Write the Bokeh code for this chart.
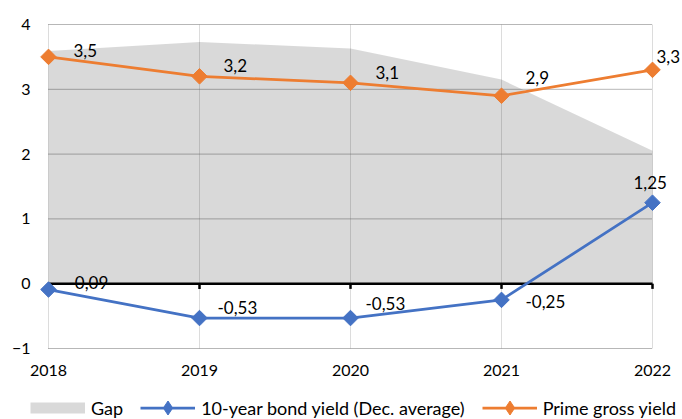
import math
from bokeh.plotting import figure
from bokeh.models import (ColumnDataSource, Range1d, FixedTicker, LabelSet,
                          Legend, LegendItem)
from bokeh.core.properties import value
from bokeh.embed import file_html
from bokeh.resources import INLINE

# ---- data ----
years = [2018, 2019, 2020, 2021, 2022]
bond_yield = [-0.09, -0.53, -0.53, -0.25, 1.25]
prime_yield = [3.5, 3.2, 3.1, 2.9, 3.3]
gap = [3.59, 3.73, 3.63, 3.15, 2.05]
bond_labels = ["-0,09", "-0,53", "-0,53", "-0,25", "1,25"]
prime_labels = ["3,5", "3,2", "3,1", "2,9", "3,3"]
y_ticks = [-1, 0, 1, 2, 3, 4]

# ---- label placement (style, screen px) ----
prime_dx = [25, 24, 25, 24, 4]
prime_dy = [6, 11, 10, 18, 13]
bond_dx = [20, 18, 15, 24, -19]
bond_dy = [7, 11, 15, -2, 20]

FONT = "Lato"
BLUE = "#4472C4"
ORANGE = "#ED7D31"
TXT = "#000000"
NAN = float("nan")

# layout: plot area 604 x 324 px for 4 years x 5 units, placed at (48, 24);
# the frame covers the whole canvas so labels, axes and legend are not clipped
W, H = 682, 419
PX_X = 604 / 4
PX_Y = 324 / 5
x_start = years[0] - 48 / PX_X
x_end = x_start + W / PX_X
y_end = y_ticks[-1] + 24 / PX_Y
y_start = y_end - H / PX_Y

p = figure(x_range=Range1d(x_start, x_end), y_range=Range1d(y_start, y_end),
           frame_width=W, frame_height=H,
           min_border_left=0, min_border_right=0,
           min_border_top=0, min_border_bottom=0,
           output_backend="svg", toolbar_location=None)
p.outline_line_color = None
p.background_fill_color = "white"

# axes (fixed inside the frame)
p.xaxis.ticker = FixedTicker(ticks=years)
p.yaxis.ticker = FixedTicker(ticks=y_ticks)
p.xaxis.fixed_location = y_ticks[0]
p.yaxis.fixed_location = years[0]
for ax in (p.xaxis, p.yaxis):
    ax.axis_line_color = None
    ax.major_tick_line_color = None
    ax.minor_tick_line_color = None
    ax.major_tick_out = 0
    ax.major_tick_in = 0
    ax.major_label_text_font = FONT
    ax.major_label_text_font_size = "16px"
    ax.major_label_text_color = TXT
p.xaxis.major_label_standoff = 16
p.yaxis.major_label_standoff = 18
p.xgrid.grid_line_color = None
p.ygrid.grid_line_color = None

src = ColumnDataSource(dict(years=years, gap=gap, bond=bond_yield, prime=prime_yield,
                            bl=bond_labels, pl=prime_labels,
                            pdx=prime_dx, pdy=prime_dy, bdx=bond_dx, bdy=bond_dy))

# vertical gridlines (plot area only)
p.segment(x0=years, y0=[y_ticks[0]] * len(years), x1=years, y1=[y_ticks[-1]] * len(years),
          line_color="#dcdcdc", line_width=1)
# horizontal dotted gridlines
p.segment(x0=[years[0]] * len(y_ticks), y0=y_ticks, x1=[years[-1]] * len(y_ticks), y1=y_ticks,
          line_color="#6f6f6f", line_width=1, line_dash="1 1")

# gap area
p.varea(x="years", y1=0, y2="gap", source=src, fill_color="black", fill_alpha=0.15)

# zero axis line with ticks
p.segment(x0=years[0], y0=0, x1=years[-1], y1=0, line_color="black", line_width=2.5)
p.segment(x0=years, y0=[0] * len(years), x1=years, y1=[-0.08] * len(years),
          line_color="black", line_width=2.5)

# series
bond_line = p.line("years", "bond", source=src, line_color=BLUE, line_width=2.75)
p.scatter("years", "bond", source=src, marker="square", angle=math.pi / 4, size=11,
          fill_color=BLUE, line_color=BLUE)
prime_line = p.line("years", "prime", source=src, line_color=ORANGE, line_width=2.75)
p.scatter("years", "prime", source=src, marker="square", angle=math.pi / 4, size=11,
          fill_color=ORANGE, line_color=ORANGE)

# data labels
for col, ycol, dx, dy in (("pl", "prime", "pdx", "pdy"), ("bl", "bond", "bdx", "bdy")):
    ls = LabelSet(x="years", y=ycol, text=col, x_offset=dx, y_offset=dy, source=src,
                  text_font=value(FONT), text_font_size="17px", text_color=TXT,
                  text_align="left", text_baseline="middle")
    p.add_layout(ls)

# legend proxies (not drawn in the plot: NaN coordinates)
gap_proxy = p.line(x=[NAN, NAN], y=[NAN, NAN], line_color="#d9d9d9", line_width=11)
bond_mk = p.scatter(x=[NAN], y=[NAN], marker="diamond", fill_color=BLUE, line_color=BLUE)
prime_mk = p.scatter(x=[NAN], y=[NAN], marker="diamond", fill_color=ORANGE, line_color=ORANGE)

legend = Legend(items=[
    LegendItem(label="Gap", renderers=[gap_proxy]),
    LegendItem(label="10-year bond yield (Dec. average)", renderers=[bond_line, bond_mk]),
    LegendItem(label="Prime gross yield", renderers=[prime_line, prime_mk]),
], orientation="horizontal", location=(30, -6),
    glyph_width=55, glyph_height=35, label_standoff=6, spacing=17,
    padding=0, margin=0, border_line_alpha=0, background_fill_alpha=0,
    label_text_font=FONT, label_text_font_size="18px", label_text_color=TXT)
p.add_layout(legend)

open("out.html", "w").write(file_html(p, INLINE))
